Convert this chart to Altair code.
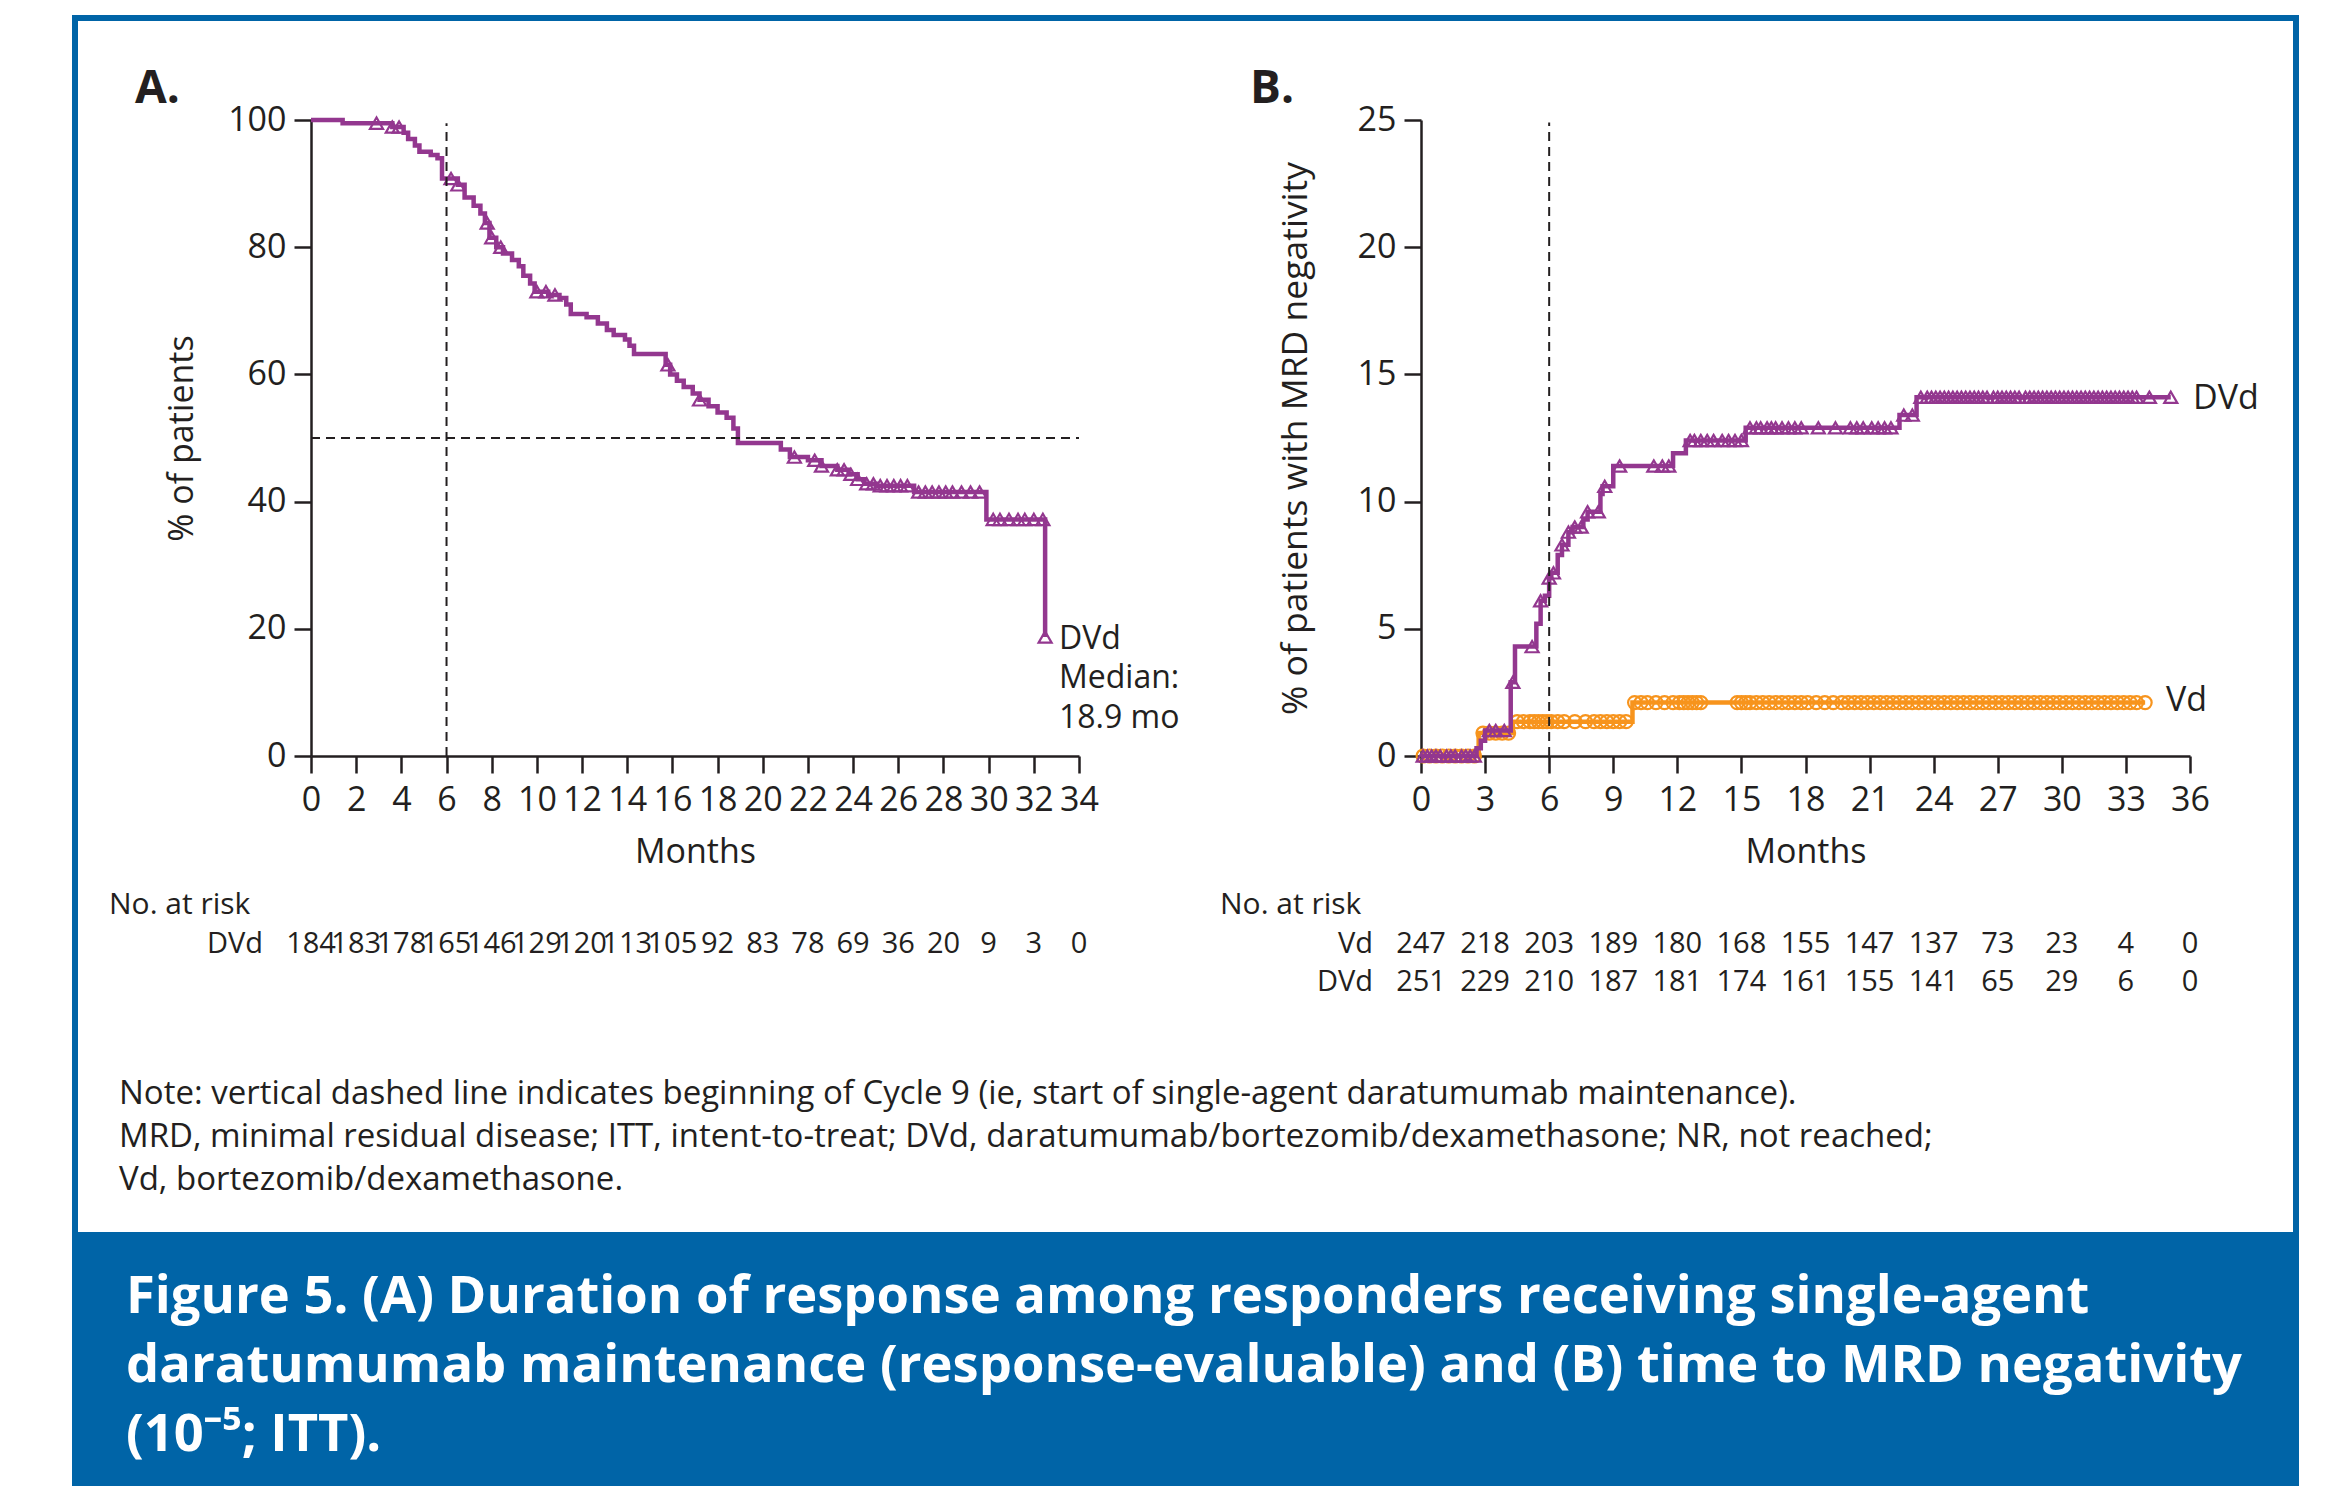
import altair as alt
import pandas as pd

# ---------------- data ----------------
# Panel A: duration of response, DVd (Kaplan-Meier step points)
A_TIME = [0, 1.4, 3.6, 4.1, 4.3, 4.6, 4.8, 5.3, 5.6, 5.8, 6.5, 6.8, 7.2, 7.5, 7.7, 7.9, 8.2, 8.5, 8.9, 9.2,
          9.4, 9.7, 9.9, 10.5, 11.0, 11.3, 11.5, 12.2, 12.7, 13.1, 13.4, 13.9, 14.1, 14.3, 15.7, 15.9, 16.2,
          16.5, 16.9, 17.2, 17.6, 18.0, 18.4, 18.7, 18.9, 20.8, 21.2, 22.0, 22.6, 23.3, 23.8, 24.2, 24.5,
          25.0, 26.7, 29.9, 32.5]
A_SURV = [100, 99.5, 98.9, 98.0, 97.0, 96.0, 95.0, 94.5, 94.0, 90.8, 89.8, 87.8, 86.5, 85.3, 83.8, 81.5,
          80.0, 79.0, 78.0, 77.0, 75.5, 74.3, 73.0, 72.5, 72.0, 71.0, 69.5, 69.0, 68.0, 67.0, 66.2, 65.5,
          64.5, 63.2, 61.5, 60.0, 59.0, 58.0, 57.0, 56.0, 55.0, 54.0, 53.2, 51.5, 49.2, 48.2, 47.0, 46.5,
          45.6, 45.0, 44.3, 43.5, 42.8, 42.5, 41.5, 37.2, 18.7]
A_CENSOR = [2.9, 3.6, 3.9, 6.2, 6.5, 7.8, 8.0, 8.4, 10.0, 10.4, 10.8, 15.8, 17.2, 21.4, 22.3, 22.6, 23.3,
            23.6, 23.9, 24.2, 24.6, 24.9, 25.2, 25.5, 25.8, 26.1, 26.4, 26.9, 27.2, 27.5, 27.8, 28.1, 28.4,
            28.8, 29.2, 29.6, 30.2, 30.5, 30.9, 31.3, 31.6, 32.0, 32.4, 32.5]
A_TICKS = [0, 2, 4, 6, 8, 10, 12, 14, 16, 18, 20, 22, 24, 26, 28, 30, 32, 34]
A_RISK_DVD = [184, 183, 178, 165, 146, 129, 120, 113, 105, 92, 83, 78, 69, 36, 20, 9, 3, 0]

# Panel B: time to MRD negativity (cumulative %)
B_DVD_TIME = [0, 2.6, 2.8, 3.0, 4.2, 4.4, 5.4, 5.6, 5.8, 6.0, 6.1, 6.4, 6.6, 6.9, 7.1, 7.6, 7.8, 8.4, 8.5,
              9.0, 11.8, 12.4, 15.2, 22.4, 23.2, 35.1]
B_DVD_PCT = [0, 0.3, 0.6, 1.0, 2.9, 4.3, 5.2, 6.1, 6.3, 7.0, 7.2, 7.9, 8.3, 8.8, 9.0, 9.3, 9.6, 10.3, 10.6,
             11.4, 11.9, 12.4, 12.9, 13.4, 14.1, 14.1]
B_DVD_CENSOR = [0.1, 0.3, 0.5, 0.7, 0.9, 1.2, 1.4, 1.6, 1.9, 2.1, 2.3, 2.5, 3.2, 3.5, 3.9, 4.3, 5.2, 5.6,
                6.0, 6.2, 6.6, 6.9, 7.2, 7.5, 7.8, 8.3, 8.6, 9.3, 10.9, 11.3, 11.6, 12.6, 12.8, 13.1, 13.4,
                13.7, 14.1, 14.4, 14.7, 15.0, 15.4, 15.7, 15.9, 16.2, 16.4, 16.6, 16.9, 17.2, 17.5, 17.8,
                18.6, 19.4, 20.1, 20.4, 20.7, 21.1, 21.4, 21.7, 22.0, 22.6, 23.0, 23.4, 23.7, 23.9, 24.1,
                24.3, 24.5, 24.7, 24.9, 25.1, 25.3, 25.5, 25.7, 25.9, 26.1, 26.3, 26.5, 26.8, 27.0, 27.2,
                27.4, 27.6, 27.8, 28.0, 28.3, 28.5, 28.7, 28.9, 29.1, 29.3, 29.5, 29.7, 29.9, 30.1, 30.3,
                30.5, 30.7, 30.9, 31.1, 31.3, 31.5, 31.7, 31.9, 32.1, 32.3, 32.5, 32.7, 32.9, 33.1, 33.3,
                33.5, 34.1, 35.1]
B_VD_TIME = [0, 2.7, 4.3, 9.9, 33.9]
B_VD_PCT = [0, 0.9, 1.35, 2.1, 2.1]
B_VD_CENSOR = [0.1, 0.4, 0.7, 1.0, 1.3, 1.6, 1.9, 2.2, 2.5, 2.9, 3.2, 3.5, 3.8, 4.1, 4.5, 4.8, 5.1, 5.3,
               5.5, 5.7, 5.9, 6.1, 6.4, 6.7, 7.2, 7.7, 8.1, 8.4, 8.7, 9.0, 9.3, 9.6, 10.0, 10.3, 10.6, 11.0,
               11.4, 11.8, 12.1, 12.3, 12.5, 12.7, 12.9, 13.1, 14.8, 15.0, 15.2, 15.4, 15.7, 16.0, 16.3,
               16.6, 16.9, 17.2, 17.5, 17.8, 18.1, 18.5, 18.9, 19.3, 19.7, 20.0, 20.3, 20.6, 20.9, 21.2,
               21.5, 21.8, 22.1, 22.4, 22.7, 23.0, 23.3, 23.6, 23.9, 24.2, 24.5, 24.8, 25.1, 25.4, 25.7,
               26.0, 26.3, 26.6, 26.9, 27.2, 27.5, 27.8, 28.1, 28.4, 28.7, 29.0, 29.3, 29.6, 29.9, 30.2,
               30.5, 30.8, 31.1, 31.4, 31.7, 32.0, 32.3, 32.6, 32.9, 33.2, 33.5, 33.9]
B_TICKS_X = [0, 3, 6, 9, 12, 15, 18, 21, 24, 27, 30, 33, 36]
B_TICKS_Y = [0, 5, 10, 15, 20, 25]
A_TICKS_Y = [0, 20, 40, 60, 80, 100]
B_RISK_VD = [247, 218, 203, 189, 180, 168, 155, 147, 137, 73, 23, 4, 0]
B_RISK_DVD = [251, 229, 210, 187, 181, 174, 161, 155, 141, 65, 29, 6, 0]

TITLE_LINES = [
    "Figure 5. (A) Duration of response among responders receiving single-agent",
    "daratumumab maintenance (response-evaluable) and (B) time to MRD negativity",
    "(10\u207b\u2075; ITT).",
]
NOTE_LINES = [
    "Note: vertical dashed line indicates beginning of Cycle 9 (ie, start of single-agent daratumumab maintenance).",
    "MRD, minimal residual disease; ITT, intent-to-treat; DVd, daratumumab/bortezomib/dexamethasone; NR, not reached;",
    "Vd, bortezomib/dexamethasone.",
]

# ---------------- layout / style ----------------
W, H = 2317, 1478
PURPLE = "#93378f"
ORANGE = "#f7941d"
BLUE = "#0064a7"
INK = "#231f20"
FONT = "Open Sans"

XA0, XA1 = 303, 1071
XB0, XB1 = 1413, 2182
Y0, Y1 = 748, 112


def step_at(times, vals, t):
    v = vals[0]
    for ti, vi in zip(times, vals):
        if ti <= t:
            v = vi
    return v


def sx_a():
    return alt.Scale(domain=[0, 34], range=[XA0, XA1], nice=False, zero=False)


def sy_a():
    return alt.Scale(domain=[0, 100], range=[Y0, Y1], nice=False, zero=False)


def sx_b():
    return alt.Scale(domain=[0, 36], range=[XB0, XB1], nice=False, zero=False)


def sy_b():
    return alt.Scale(domain=[0, 25], range=[Y0, Y1], nice=False, zero=False)


AX = dict(domainColor=INK, domainWidth=2.5, tickColor=INK, tickWidth=2.5, tickSize=17,
          labelColor=INK, labelFont=FONT, labelFontSize=34, titleColor=INK, titleFont=FONT,
          titleFontSize=34, titleFontWeight="normal", grid=False, labelOverlap=False,
          labelFlush=False)

one = pd.DataFrame({"s": [""]})


def text(s, x, y, size, align="left", weight="normal", color=INK, font=FONT):
    return alt.Chart(pd.DataFrame({"s": [s]})).mark_text(
        align=align, baseline="middle", fontSize=size, fontWeight=weight, color=color, font=font
    ).encode(x=alt.value(x), y=alt.value(y), text="s:N")


layers = []

# frame + blue caption box
layers.append(alt.Chart(one).mark_rect(fillOpacity=0, stroke=BLUE, strokeWidth=6).encode(
    x=alt.value(67), x2=alt.value(2288), y=alt.value(10), y2=alt.value(1230)))
layers.append(alt.Chart(one).mark_rect(color=BLUE).encode(
    x=alt.value(64), x2=alt.value(2291), y=alt.value(1224), y2=alt.value(H)))

# ---------- Panel A ----------
dfA = pd.DataFrame({"t": A_TIME, "v": A_SURV})
layers.append(alt.Chart(dfA).mark_line(interpolate="step-after", color=PURPLE, strokeWidth=4.5).encode(
    x=alt.X("t:Q", scale=sx_a(), axis=alt.Axis(values=A_TICKS, title="Months", orient="bottom",
                                                offset=Y0 - H, labelPadding=10, titlePadding=18, **AX)),
    y=alt.Y("v:Q", scale=sy_a(), axis=alt.Axis(values=A_TICKS_Y, title="% of patients", orient="left",
                                                offset=-XA0, labelPadding=8, titlePadding=28, **AX)),
))
dfAc = pd.DataFrame({"t": A_CENSOR, "v": [step_at(A_TIME, A_SURV, t) for t in A_CENSOR]})
layers.append(alt.Chart(dfAc).mark_point(shape="triangle-up", filled=False, color=PURPLE, size=170,
                                          strokeWidth=2.2, opacity=1).encode(
    x=alt.X("t:Q", scale=sx_a(), axis=None), y=alt.Y("v:Q", scale=sy_a(), axis=None)))
layers.append(alt.Chart(pd.DataFrame({"t": [6], "a": [0], "b": [99.5]})).mark_rule(
    color=INK, strokeWidth=2, strokeDash=[9, 6]).encode(
    x=alt.X("t:Q", scale=sx_a(), axis=None), y=alt.Y("a:Q", scale=sy_a(), axis=None), y2="b:Q"))
layers.append(alt.Chart(pd.DataFrame({"a": [0], "b": [34], "v": [50]})).mark_rule(
    color=INK, strokeWidth=2, strokeDash=[9, 6]).encode(
    x=alt.X("a:Q", scale=sx_a(), axis=None), x2="b:Q", y=alt.Y("v:Q", scale=sy_a(), axis=None)))
layers.append(alt.Chart(pd.DataFrame({"t": A_TICKS, "n": [str(n) for n in A_RISK_DVD]})).mark_text(
    fontSize=29, font=FONT, color=INK, baseline="middle").encode(
    x=alt.X("t:Q", scale=sx_a(), axis=None), y=alt.value(936), text="n:N"))

# ---------- Panel B ----------
dfBv = pd.DataFrame({"t": B_VD_TIME, "v": B_VD_PCT})
layers.append(alt.Chart(dfBv).mark_line(interpolate="step-after", color=ORANGE, strokeWidth=4.5).encode(
    x=alt.X("t:Q", scale=sx_b(), axis=None), y=alt.Y("v:Q", scale=sy_b(), axis=None)))
dfBvc = pd.DataFrame({"t": B_VD_CENSOR, "v": [step_at(B_VD_TIME, B_VD_PCT, t) for t in B_VD_CENSOR]})
layers.append(alt.Chart(dfBvc).mark_point(shape="circle", filled=False, color=ORANGE, size=170,
                                           strokeWidth=2.2, opacity=1).encode(
    x=alt.X("t:Q", scale=sx_b(), axis=None), y=alt.Y("v:Q", scale=sy_b(), axis=None)))
dfBd = pd.DataFrame({"t": B_DVD_TIME, "v": B_DVD_PCT})
layers.append(alt.Chart(dfBd).mark_line(interpolate="step-after", color=PURPLE, strokeWidth=4.5).encode(
    x=alt.X("t:Q", scale=sx_b(), axis=alt.Axis(values=B_TICKS_X, title="Months", orient="bottom",
                                                offset=Y0 - H, labelPadding=10, titlePadding=18, **AX)),
    y=alt.Y("v:Q", scale=sy_b(), axis=alt.Axis(values=B_TICKS_Y, title="% of patients with MRD negativity",
                                                orient="left", offset=-XB0, labelPadding=8,
                                                titlePadding=44, **dict(AX, titleFontSize=35.5))),
))
dfBdc = pd.DataFrame({"t": B_DVD_CENSOR, "v": [step_at(B_DVD_TIME, B_DVD_PCT, t) for t in B_DVD_CENSOR]})
layers.append(alt.Chart(dfBdc).mark_point(shape="triangle-up", filled=False, color=PURPLE, size=170,
                                           strokeWidth=2.2, opacity=1).encode(
    x=alt.X("t:Q", scale=sx_b(), axis=None), y=alt.Y("v:Q", scale=sy_b(), axis=None)))
layers.append(alt.Chart(pd.DataFrame({"t": [6], "a": [0], "b": [24.9]})).mark_rule(
    color=INK, strokeWidth=2, strokeDash=[9, 6]).encode(
    x=alt.X("t:Q", scale=sx_b(), axis=None), y=alt.Y("a:Q", scale=sy_b(), axis=None), y2="b:Q"))
layers.append(alt.Chart(pd.DataFrame({"t": B_TICKS_X, "n": [str(n) for n in B_RISK_VD]})).mark_text(
    fontSize=29, font=FONT, color=INK, baseline="middle").encode(
    x=alt.X("t:Q", scale=sx_b(), axis=None), y=alt.value(936), text="n:N"))
layers.append(alt.Chart(pd.DataFrame({"t": B_TICKS_X, "n": [str(n) for n in B_RISK_DVD]})).mark_text(
    fontSize=29, font=FONT, color=INK, baseline="middle").encode(
    x=alt.X("t:Q", scale=sx_b(), axis=None), y=alt.value(974), text="n:N"))

# ---------- annotations ----------
layers += [
    text("A.", 127, 81, 46, weight="bold"),
    text("B.", 1242, 81, 46, weight="bold"),
    text("DVd", 1051, 631, 32),
    text("Median:", 1051, 670, 32),
    text("18.9 mo", 1051, 710, 32),
    text("DVd", 2185, 391, 34),
    text("Vd", 2158, 693, 34),
    text("No. at risk", 101, 897, 30),
    text("DVd", 255, 936, 29, align="right"),
    text("No. at risk", 1212, 897, 30),
    text("Vd", 1365, 936, 29, align="right"),
    text("DVd", 1365, 974, 29, align="right"),
]
for i, line in enumerate(NOTE_LINES):
    layers.append(text(line, 111, 1086 + 43 * i, 33))
for i, line in enumerate(TITLE_LINES):
    layers.append(text(line, 118, 1289 + 69 * i, 52.5, weight="bold", color="white"))

chart = alt.layer(*layers).resolve_scale(x="independent", y="independent").properties(
    width=W, height=H, autosize=alt.AutoSizeParams(type="none"), padding=0
).configure_view(stroke=None)

chart.save("out.html", embed_options={"renderer": "svg", "actions": False})
